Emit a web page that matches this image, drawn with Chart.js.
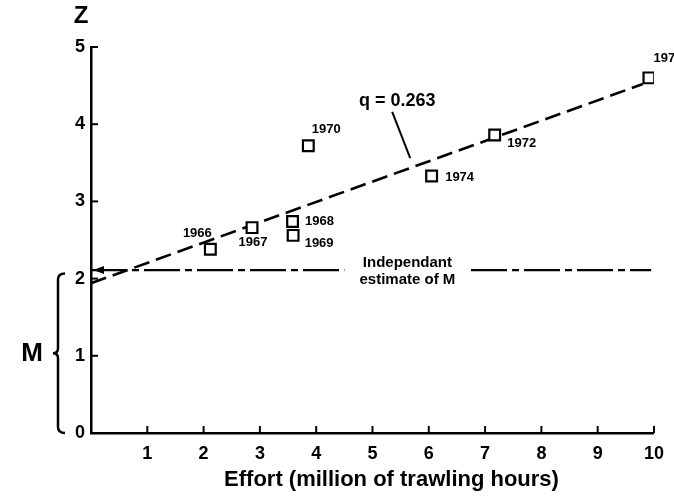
<!DOCTYPE html>
<html>
<head>
<meta charset="utf-8">
<script src="https://cdn.jsdelivr.net/npm/chart.js@4/dist/chart.umd.min.js"></script>
<style>
  html, body { margin: 0; padding: 0; background: #fff; }
  #wrap { width: 674px; height: 498px; }
</style>
</head>
<body>
<div id="wrap"><canvas id="c" width="674" height="498"></canvas></div>
<script>
// ---- data ----
const years     = ['1966', '1967', '1968', '1969', '1970', '1972', '1973', '1974'];
const effort    = [2.12, 2.86, 3.58, 3.59, 3.86, 7.17, 9.91, 6.05];   // million trawling hours
const totalZ    = [2.38, 2.66, 2.74, 2.56, 3.72, 3.86, 4.60, 3.33];   // total mortality Z
const fitX      = [0, 9.8];
const fitZ      = [1.94, 4.52];                                       // q = 0.263
const mX        = [0, 4.5, 5.6, 6.75, 9.95];
const mZ        = [2.11, 2.11, null, 2.11, 2.11];                     // independent estimate of M
const xTicks    = [0, 1, 2, 3, 4, 5, 6, 7, 8, 9, 10];
const yTicks    = [0, 1, 2, 3, 4, 5];
const xTitle    = 'Effort (million of trawling hours)';
const yTitle    = 'Z';
const qLabel    = 'q = 0.263';
const mNote     = ['Independant', 'estimate of M'];

const FONT = '"Liberation Sans", Arial, sans-serif';

// label offsets (pixels) for the year tags, relative to their boxes
const yearOffsets = {
  '1966': [-13, -16], '1967': [1, 15], '1968': [27, 0], '1969': [26, 8],
  '1970': [18, -16], '1972': [27, 8], '1973': [19, -19], '1974': [28, 1]
};

const decor = {
  id: 'decor',
  beforeDraw(chart) {
    const ctx = chart.ctx;
    ctx.save();
    ctx.fillStyle = '#fff';
    ctx.fillRect(0, 0, chart.width, chart.height);
    ctx.restore();
  },
  afterDraw(chart) {
    const ctx = chart.ctx;
    const xs = chart.scales.x, ys = chart.scales.y;
    ctx.save();
    ctx.strokeStyle = '#000';
    ctx.fillStyle = '#000';
    ctx.lineCap = 'butt';

    // inward tick marks
    ctx.lineWidth = 2;
    xTicks.forEach(v => {
      if (v === 0) return;
      const px = xs.getPixelForValue(v);
      ctx.beginPath(); ctx.moveTo(px, ys.bottom); ctx.lineTo(px, ys.bottom - 7); ctx.stroke();
    });
    yTicks.forEach(v => {
      if (v === 0) return;
      const py = ys.getPixelForValue(v);
      ctx.beginPath(); ctx.moveTo(xs.left, py); ctx.lineTo(xs.left + 7, py); ctx.stroke();
    });

    // arrow head at left end of the M line
    const ay = ys.getPixelForValue(mZ[0]);
    const ax = xs.left + 2;
    ctx.beginPath();
    ctx.moveTo(ax, ay); ctx.lineTo(ax + 11, ay - 4); ctx.lineTo(ax + 11, ay + 4); ctx.closePath();
    ctx.fill();

    // year labels
    ctx.font = 'bold 13px ' + FONT;
    ctx.textAlign = 'center';
    ctx.textBaseline = 'middle';
    years.forEach((yr, i) => {
      const px = xs.getPixelForValue(effort[i]);
      const py = ys.getPixelForValue(totalZ[i]);
      const o = yearOffsets[yr];
      ctx.fillText(yr, px + o[0], py + o[1]);
    });

    // q label with leader line
    const qx = xs.getPixelForValue(5.6), qy = ys.getPixelForValue(4.4);
    ctx.font = 'bold 18px ' + FONT;
    ctx.fillText(qLabel, qx - 9, qy + 8);
    ctx.lineWidth = 2;
    ctx.beginPath();
    ctx.moveTo(xs.getPixelForValue(5.35), ys.getPixelForValue(4.16));
    ctx.lineTo(xs.getPixelForValue(5.67), ys.getPixelForValue(3.56));
    ctx.stroke();

    // note on the M line
    const nx = xs.getPixelForValue(5.62), ny = ys.getPixelForValue(mZ[0]);
    ctx.font = 'bold 15px ' + FONT;
    ctx.fillText(mNote[0], nx, ny - 7);
    ctx.fillText(mNote[1], nx, ny + 10);

    // Z title at top of y axis
    ctx.font = 'bold 24px ' + FONT;
    ctx.fillText(yTitle, xs.left - 10, 16);

    // x title
    ctx.font = 'bold 22px ' + FONT;
    ctx.fillText(xTitle, (xs.left + xs.right) / 2 + 19, 480);

    // M with brace spanning 0..2
    const b0 = ys.getPixelForValue(0), b2 = ys.getPixelForValue(2) - 5;
    const bm = (b0 + b2) / 2, bx = 58;
    ctx.lineWidth = 2.5;
    ctx.beginPath();
    ctx.moveTo(bx + 7, b2);
    ctx.quadraticCurveTo(bx, b2, bx, b2 + 6);
    ctx.lineTo(bx, bm - 5);
    ctx.quadraticCurveTo(bx, bm, bx - 5, bm);
    ctx.quadraticCurveTo(bx, bm, bx, bm + 5);
    ctx.lineTo(bx, b0 - 6);
    ctx.quadraticCurveTo(bx, b0, bx + 7, b0);
    ctx.stroke();
    ctx.font = 'bold 26px ' + FONT;
    ctx.fillText('M', 32, bm + 1);

    ctx.restore();
  }
};

new Chart(document.getElementById('c'), {
  type: 'scatter',
  data: {
    datasets: [
      {
        label: 'Z',
        data: years.map((y, i) => ({ x: effort[i], y: totalZ[i] })),
        pointStyle: 'rect',
        pointRadius: 7.6,
        pointBorderWidth: 2.2,
        pointBackgroundColor: '#fff',
        pointBorderColor: '#000',
        showLine: false
      },
      {
        label: 'fit',
        data: fitX.map((x, i) => ({ x: x, y: fitZ[i] })),
        showLine: true,
        borderColor: '#000',
        borderWidth: 2.6,
        borderDash: [16, 7],
        pointRadius: 0
      },
      {
        label: 'M',
        data: mX.map((x, i) => ({ x: x, y: mZ[i] })),
        showLine: true,
        spanGaps: false,
        borderColor: '#000',
        borderWidth: 2.4,
        borderDash: [36, 5, 7, 5],
        pointRadius: 0
      }
    ]
  },
  options: {
    responsive: false,
    animation: false,
    devicePixelRatio: 1,
    layout: { padding: { top: 47, right: 18, left: 0, bottom: 0 } },
    plugins: { legend: { display: false }, tooltip: { enabled: false } },
    scales: {
      x: {
        type: 'linear', min: 0, max: 10,
        afterFit(s) { s.height = 65; },
        afterBuildTicks(s) { s.ticks = xTicks.map(v => ({ value: v })); },
        grid: { display: false, drawTicks: false },
        border: { display: true, color: '#000', width: 2.5 },
        ticks: {
          padding: 10, color: '#000',
          font: { family: FONT, size: 18, weight: 'bold' },
          maxRotation: 0,
          callback: v => (v === 0 ? '' : String(v))
        }
      },
      y: {
        type: 'linear', min: 0, max: 5,
        afterFit(s) { s.width = 91; },
        afterBuildTicks(s) { s.ticks = yTicks.map(v => ({ value: v })); },
        grid: { display: false, drawTicks: false },
        border: { display: true, color: '#000', width: 2.5 },
        ticks: {
          padding: 6, color: '#000',
          font: { family: FONT, size: 18, weight: 'bold' },
          callback: v => String(v)
        }
      }
    }
  },
  plugins: [decor]
});
</script>
</body>
</html>
